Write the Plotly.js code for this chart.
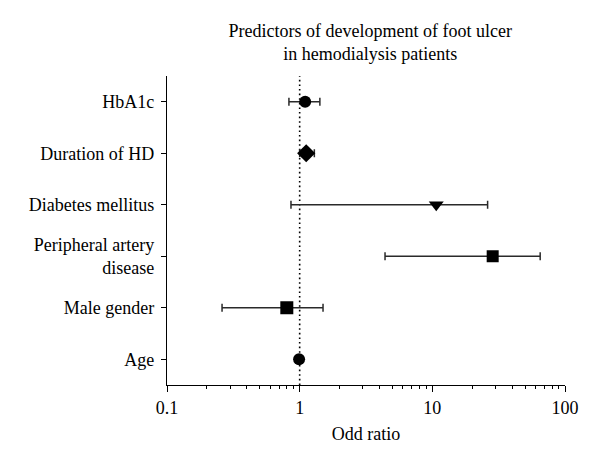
<!DOCTYPE html>
<html>
<head>
<meta charset="utf-8">
<script src="https://cdn.plot.ly/plotly-3.0.1.min.js"></script>
<style>
  body { margin: 0; background: #fff; }
  #chart { width: 600px; height: 469px; }
</style>
</head>
<body>
<div id="chart"></div>
<script>
// Predictors, bottom to top
const predictors = ['Age', 'Male gender', 'Peripheral artery<br>disease', 'Diabetes mellitus', 'Duration of HD', 'HbA1c'];
const oddRatio = [0.99, 0.80, 28.5, 10.7, 1.12, 1.10];
const ciLow = [0.98, 0.26, 4.4, 0.86, 1.00, 0.83];
const ciHigh = [1.01, 1.50, 65, 26.1, 1.29, 1.42];
const symbols = ['circle', 'square', 'square', 'triangle-down', 'diamond', 'circle'];
const markerSizes = [12, 13, 12, 13, 14, 12];

const xTickVals = [0.1, 1, 10, 100];
const xTickText = ['0.1', '1', '10', '100'];

const font = 'Liberation Serif, Times New Roman, serif';

const trace = {
    x: oddRatio,
    y: predictors,
    type: 'scatter',
    mode: 'markers',
    marker: {
        color: '#000',
        opacity: 1,
        symbol: symbols,
        size: markerSizes,
        line: { width: 0 }
    },
    error_x: {
        type: 'data',
        symmetric: false,
        array: ciHigh.map((v, i) => v - oddRatio[i]),
        arrayminus: oddRatio.map((v, i) => v - ciLow[i]),
        color: '#2a2a2a',
        thickness: 1.5,
        width: 4
    },
    hoverinfo: 'x+y',
    showlegend: false
};

const layout = {
    width: 600,
    height: 469,
    margin: { t: 76, r: 35, b: 84, l: 167 },
    paper_bgcolor: '#fff',
    plot_bgcolor: '#fff',
    font: { family: font, size: 18, color: '#000' },
    title: {
        text: 'Predictors of development of foot ulcer<br>in hemodialysis patients',
        font: { family: font, size: 18, color: '#000' },
        x: 0.617,
        xanchor: 'center',
        y: 0.921,
        yanchor: 'middle'
    },
    xaxis: {
        type: 'log',
        range: [-1, 2],
        tickmode: 'array',
        tickvals: xTickVals,
        ticktext: xTickText,
        ticks: 'outside',
        ticklen: 6,
        tickwidth: 1.3,
        tickcolor: '#000',
        showline: true,
        linecolor: '#000',
        linewidth: 1.3,
        showgrid: false,
        zeroline: false,
        minor: { ticks: 'outside', ticklen: 3, tickwidth: 1.2, tickcolor: '#000', dtick: 'D1', showgrid: false },
        title: { text: 'Odd ratio', font: { family: font, size: 18 }, standoff: 10 }
    },
    yaxis: {
        type: 'category',
        categoryorder: 'array',
        categoryarray: predictors,
        range: [-0.5, 5.5],
        ticks: 'outside',
        ticklen: 5,
        tickwidth: 1.3,
        tickcolor: '#000',
        showline: true,
        linecolor: '#000',
        linewidth: 1.3,
        showgrid: false,
        zeroline: false,
        ticklabelstandoff: 3
    },
    shapes: [{
        type: 'line',
        xref: 'x', yref: 'paper',
        x0: 1, x1: 1, y0: 0, y1: 1,
        line: { color: '#000', width: 1.6, dash: '1.6px,3px' },
        layer: 'below'
    }]
};

Plotly.newPlot('chart', [trace], layout, { displayModeBar: false, responsive: false });
</script>
</body>
</html>
